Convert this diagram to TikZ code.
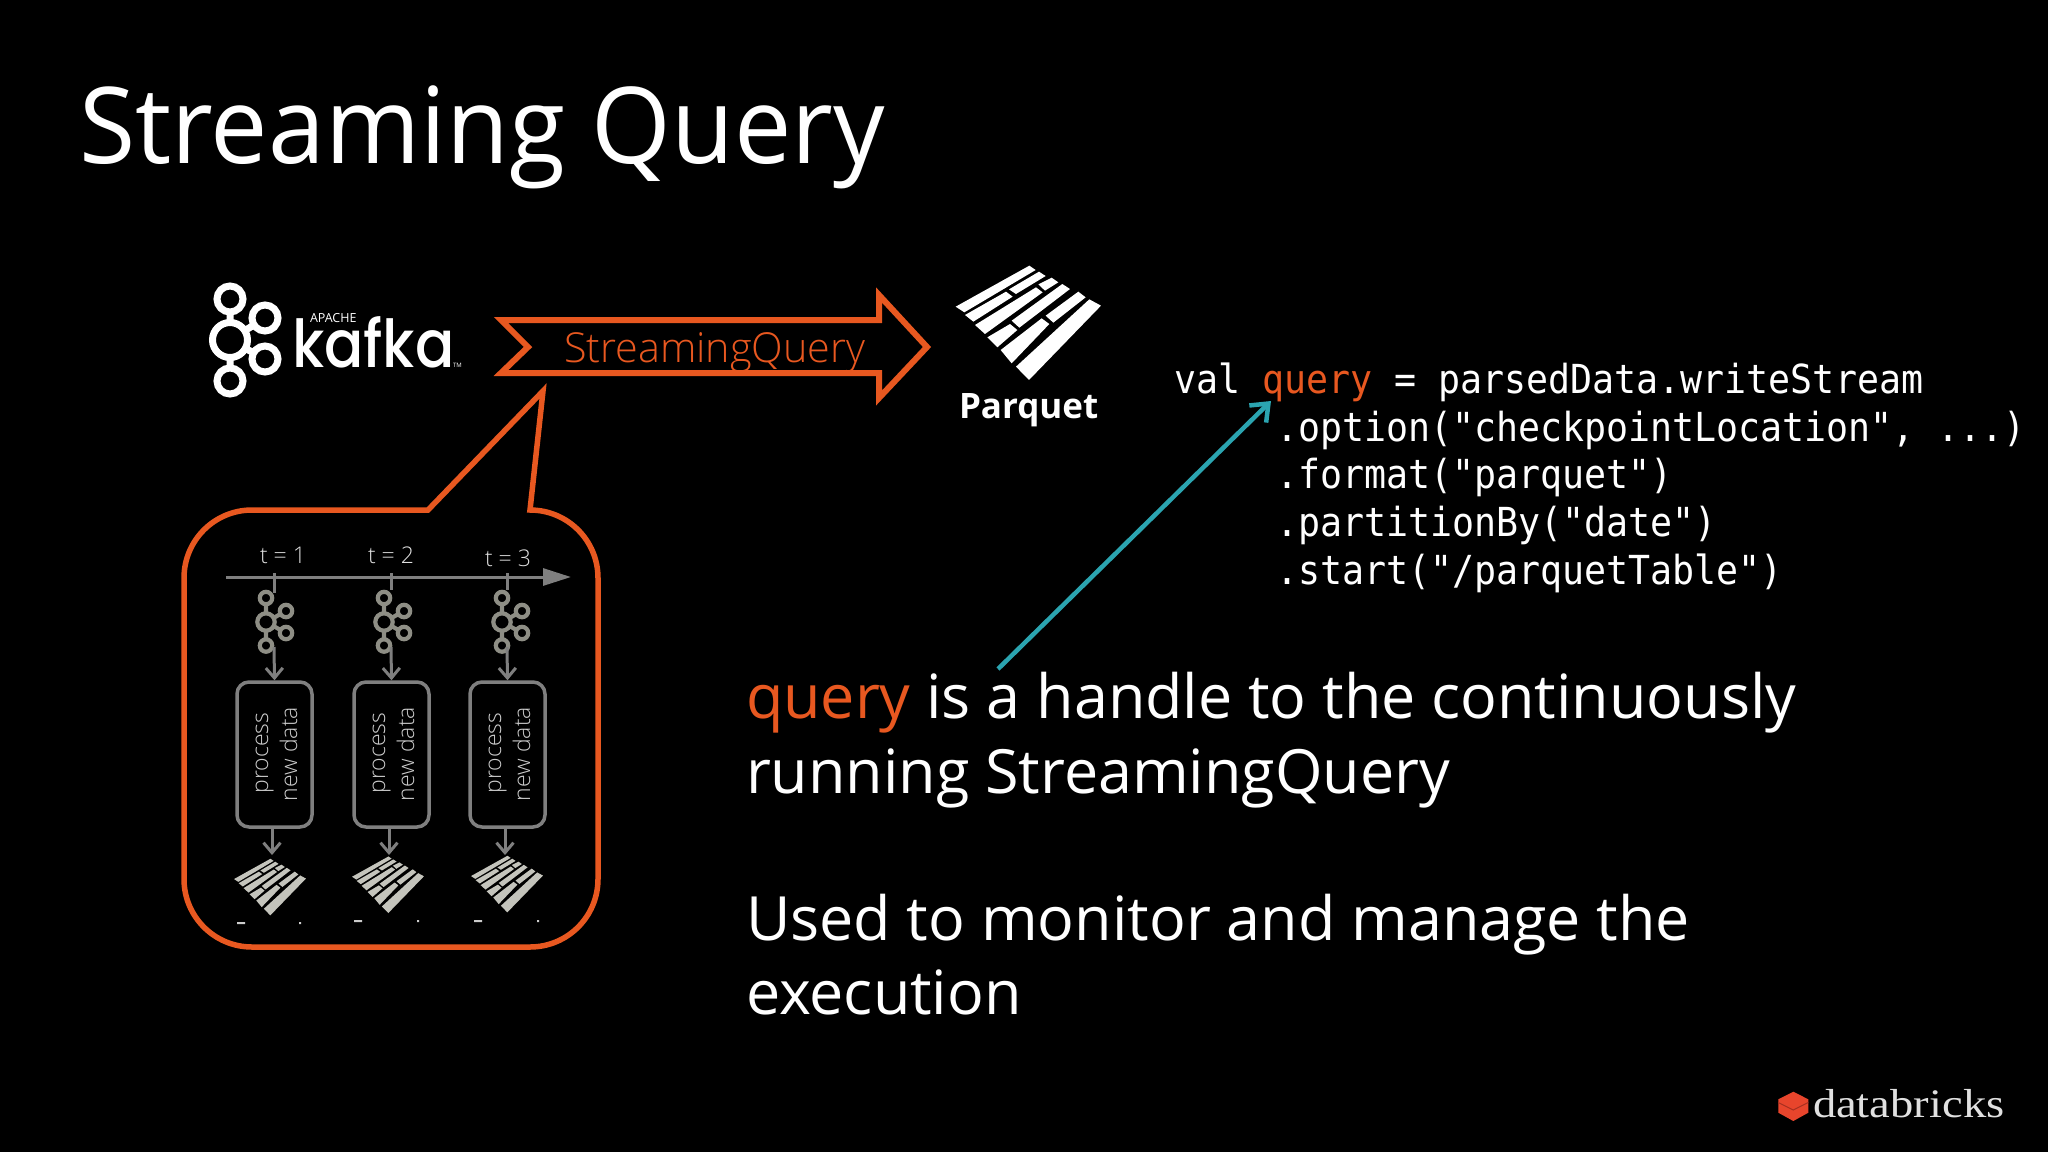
\documentclass[tikz,border=0pt]{standalone}
\usepackage{fontspec}
\usetikzlibrary{arrows.meta}
\setmainfont{Open Sans}
\newfontfamily\opl{Open Sans Light}
\newfontfamily\ttlf[FakeStretch=0.965]{Open Sans}
\newfontfamily\cod[FakeStretch=0.915]{DejaVu Sans Mono}
\newfontfamily\pop[FakeStretch=0.88]{Poppins Medium}
\newfontfamily\ser[FakeStretch=1.15]{Liberation Serif}
\definecolor{org}{HTML}{E85820}
\definecolor{gl}{HTML}{7F7F7F}
\definecolor{ic}{HTML}{8E8E85}
\definecolor{pq}{HTML}{C4C4BC}
\definecolor{tl}{HTML}{2BA4B0}
\definecolor{txg}{HTML}{CCCCCC}
\definecolor{dbr}{HTML}{E8452C}
\definecolor{dbd}{HTML}{A83020}
\tikzset{
 x=1pt,y=-1pt,
 lbl/.style={inner sep=0pt,outer sep=0pt,anchor=base west,text=white},
 ttl/.style={lbl,font=\ttlf\fontsize{106}{120}\selectfont},
 body/.style={lbl,font=\fontsize{61}{70}\selectfont},
 code/.style={lbl,font=\cod\fontsize{40}{48}\selectfont},
 tlab/.style={inner sep=0pt,anchor=base,text=white!88!black,font=\opl\fontsize{23}{28}\selectfont},
 proc/.style={inner sep=0pt,anchor=base,rotate=90,text=txg,font=\opl\fontsize{23}{28}\selectfont},
 pbox/.style={draw=gl,line width=3.5pt,rounded corners=12pt,minimum width=75pt,minimum height=145pt,inner sep=0pt},
 garr/.style={draw=gl,line width=3pt,-{Straight Barb[length=10pt,width=17pt,line width=3pt]}},
 tick/.style={draw=gl,line width=3pt},
 parq/.pic={
  \path[pic actions] (77,170)--(298,47)--(317,60)--(103,187)--cycle
   (105,195)--(228,125)--(248,140)--(130,215)--cycle
   (237,118)--(327,65)--(347,78)--(258,132)--cycle
   (135,225)--(318,112)--(338,127)--(165,252)--cycle
   (325,103)--(365,83)--(385,97)--(345,122)--cycle
   (172,262)--(240,222)--(262,240)--(202,292)--cycle
   (245,212)--(397,102)--(420,117)--(268,233)--cycle
   (212,300)--(335,205)--(358,222)--(245,340)--cycle
   (347,197)--(445,125)--(467,142)--(370,218)--cycle
   (258,350)--(478,148)--(513,167)--(297,390)--cycle;
 },
 kaf/.pic={
  \path[pic actions] (0,-41) circle[radius=13] (0,41) circle[radius=13]
   (35,-22) circle[radius=13] (35,19) circle[radius=13] (0,0) circle[radius=17.5]
   (0,-28)--(0,-17) (0,28)--(0,17) (14.6,-9.2)--(24,-15.1) (15,8.2)--(24,13);
 },
 kafs/.pic={
  \path[pic actions] (0,-24) circle[radius=6.2] (0,23.5) circle[radius=6.2]
   (20,-11) circle[radius=6.2] (20,11) circle[radius=6.2] (0,0) circle[radius=8.7]
   (0,-18)--(0,-9) (0,18)--(0,9) (7.5,-4)--(14.5,-8) (7.5,4)--(14.5,8);
 }
}
\begin{document}
\begin{tikzpicture}
\useasboundingbox (0,0) rectangle (2048,1152);
\fill[black] (0,0) rectangle (2048,1152);
% title
\node[ttl] (title) at (79,163) {Streaming Query};
% kafka logo
\pic[draw=white,line width=7pt] at (230,340) {kaf};
\node[lbl,font=\pop\fontsize{66}{70}\selectfont] (kafka) at (292,367) {kafka};
\node[lbl,font=\fontsize{12.5}{14}\selectfont] (apache) at (310,322) {APACHE};
\node[lbl,font=\fontsize{6}{7}\selectfont] (tm) at (453,367) {TM};
% banner arrow
\draw[org,line width=6pt,miter limit=10] (501,320)--(528,347)--(501,373)--(879,373)--(879,398)--(927,347)--(879,295)--(879,320)--cycle;
\node[lbl,text=org,font=\opl\fontsize{41.3}{50}\selectfont] (sq) at (564,362) {StreamingQuery};
% parquet
\pic[fill=white,scale=0.3333] at (930,250) {parq};
\node[lbl,font=\bfseries\fontsize{35}{40}\selectfont] (pqt) at (959,418) {Parquet};
% callout
\draw[org,line width=5.5pt,line join=miter] (428,510)--(543,391)--(530,510)
  .. controls (567.6,510) and (598,540.4) .. (598,578)
  -- (598,879) .. controls (598,916.6) and (567.6,947) .. (530,947)
  -- (252,947) .. controls (214.4,947) and (184,916.6) .. (184,879)
  -- (184,578) .. controls (184,540.4) and (214.4,510) .. (252,510) -- cycle;
% timeline
\coordinate (ax0) at (226,577); \coordinate (ax1) at (571,577);
\draw[gl,line width=3pt,-{Triangle[length=28pt,width=17pt]}] (ax0)--(ax1);
\node[tlab] (t1) at (283,563) {t = 1};
\node[tlab] (t2) at (391,563) {t = 2};
\node[tlab] (t3) at (508,566) {t = 3};
\coordinate (a1) at (274,573); \coordinate (b1) at (274,593);
\coordinate (a2) at (391,573); \coordinate (b2) at (391,590);
\coordinate (a3) at (507,573); \coordinate (b3) at (507,590);
\draw[tick] (a1)--(b1); \draw[tick] (a2)--(b2); \draw[tick] (a3)--(b3);
\pic[draw=ic,line width=4.2pt] at (266,622) {kafs};
\pic[draw=ic,line width=4.2pt] at (384,622) {kafs};
\pic[draw=ic,line width=4.2pt] at (502,622) {kafs};
% process boxes
\node[pbox] (p1) at (274.5,754.5) {};
\node[pbox] (p2) at (391.5,754.5) {};
\node[pbox] (p3) at (507.5,754.5) {};
\coordinate (k1) at (274,647); \coordinate (k2) at (391,647); \coordinate (k3) at (507,647);
\draw[garr] (k1)--(p1.north); \draw[garr] (k2)--(p2.north); \draw[garr] (k3)--(p3.north);
\node[proc] (pa1) at (268,753) {process}; \node[proc] (na1) at (297,754) {new data};
\node[proc] (pa2) at (385,753) {process}; \node[proc] (na2) at (414,754) {new data};
\node[proc] (pa3) at (501,753) {process}; \node[proc] (na3) at (530,754) {new data};
\coordinate (o1) at (272,855); \coordinate (o2) at (389,855); \coordinate (o3) at (505,855);
\draw[garr] (p1.south -| o1)--(o1);
\draw[garr] (p2.south -| o2)--(o2);
\draw[garr] (p3.south -| o3)--(o3);
\pic[fill=pq,scale=0.165] at (221.3,851) {parq};
\pic[fill=pq,scale=0.165] at (339.3,848.7) {parq};
\pic[fill=pq,scale=0.165] at (458.3,848) {parq};
\fill[txg] (237,922) rectangle (245,924) (299,922) rectangle (301,924)
 (354,920) rectangle (362,922) (417,920) rectangle (419,922)
 (474,920) rectangle (482,922) (537,920) rectangle (539,922);
% code
\node[code] (c1) at (1174,393) {val \textcolor{org}{query} = parsedData.writeStream};
\node[code] (c2) at (1276,441) {.option("checkpointLocation", ...)};
\node[code] (c3) at (1276,488) {.format("parquet")};
\node[code] (c4) at (1276,536) {.partitionBy("date")};
\node[code] (c5) at (1276,584) {.start("/parquetTable")};
% body text
\node[body] (b1t) at (746,718) {\textcolor{org}{query} is a handle to the continuously};
\node[body] (b2t) at (746,793) {running StreamingQuery};
\node[body] (b3t) at (746,940) {Used to monitor and manage the};
\node[body] (b4t) at (746,1014) {execution};
% teal arrow
\coordinate (ts) at (998,669); \coordinate (te) at (1271,401);
\draw[tl,line width=4.5pt,-{Straight Barb[length=15pt,width=24pt,line width=4.5pt]}] (ts)--(te);
% databricks
\fill[dbr] (1793.3,1091.7)--(1808.3,1099.3)--(1808.3,1112.7)--(1793.3,1121)--(1778.3,1112.7)--(1778.3,1099.3)--cycle;
\draw[dbd,line width=1pt] (1778.3,1102.5)--(1793.3,1110)--(1808.3,1102.5);
\node[lbl,text=white!88!black,font=\ser\fontsize{40.5}{50}\selectfont] (db) at (1813,1117) {databricks};
\end{tikzpicture}
\end{document}
